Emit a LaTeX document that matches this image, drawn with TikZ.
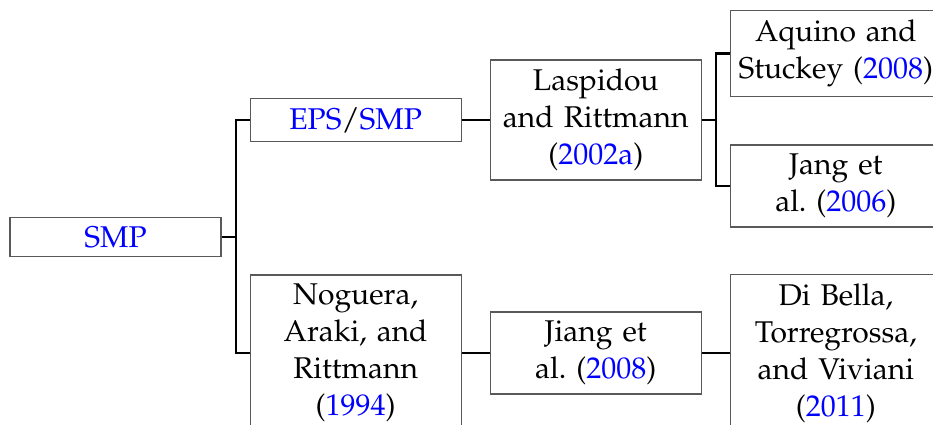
\documentclass[tikz,border=0pt]{standalone}
\usepackage[T1]{fontenc}
\usepackage{mathpazo}
\usepackage{tikz}
\usetikzlibrary{positioning}
\newcommand{\yr}[1]{\textcolor{blue}{#1}}
\frenchspacing

\begin{document}
\begin{tikzpicture}[font=\fontsize{12}{14.8}\selectfont,node distance=11.2pt,
  fork/.style={draw=black,line width=0.85pt}]
  \tikzstyle{lit}=[draw=black!65,line width=0.45pt,text width=80pt,align=center,
    inner xsep=2.2pt,inner ysep=3.6pt]
  \useasboundingbox (0,0) rectangle (373.2pt,-170pt);

  \node[lit] (smp) at (46.2pt,-94.8pt)           {\yr{SMP}};
  \node[lit] (eps)  [right=of smp,yshift=46.8pt]  {\yr{EPS}/\yr{SMP}};
  \node[lit] (las)  [right=of eps]                {Laspidou\\and Rittmann\\(\yr{2002a})};
  \node[lit] (aqu)  [right=of las,yshift=26.6pt]  {Aquino and\\Stuckey (\yr{2008})};
  \node[lit] (jang) [right=of las,yshift=-26.4pt] {Jang et\\al. (\yr{2006})};
  \node[lit] (nog)  [right=of smp,yshift=-46.4pt] {Noguera,\\Araki, and\\Rittmann\\(\yr{1994})};
  \node[lit] (jia)  [right=of nog]                {Jiang et\\al. (\yr{2008})};
  \node[lit] (dib)  [right=of jia]                {Di Bella,\\Torregrossa,\\and Viviani\\(\yr{2011})};

  \path[fork] (smp.east) -- ++(5.6pt,0) |- (eps.west)
              (smp.east) -- ++(5.6pt,0) |- (nog.west)
              (eps) -- (las)
              (las.east) -- ++(5.6pt,0) |- (aqu.west)
              (las.east) -- ++(5.6pt,0) |- (jang.west)
              (nog) -- (jia)
              (jia) -- (dib);
\end{tikzpicture}
\end{document}
